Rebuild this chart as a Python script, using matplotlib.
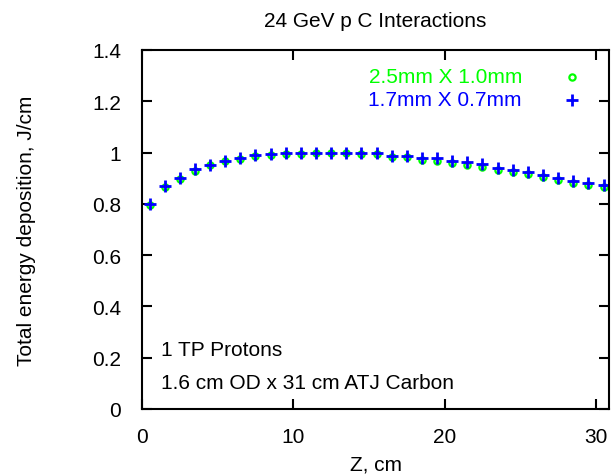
import matplotlib
matplotlib.use('Agg')
import matplotlib.pyplot as plt

# data
z = [0.5, 1.5, 2.5, 3.5, 4.5, 5.5, 6.5, 7.5, 8.5, 9.5, 10.5, 11.5, 12.5, 13.5, 14.5, 15.5,
     16.5, 17.5, 18.5, 19.5, 20.5, 21.5, 22.5, 23.5, 24.5, 25.5, 26.5, 27.5, 28.5, 29.5, 30.5]
edep_small = [0.800, 0.871, 0.902, 0.934, 0.953, 0.969, 0.977, 0.990, 0.993, 0.998, 0.999,
              1.000, 1.000, 1.000, 0.998, 0.999, 0.988, 0.988, 0.977, 0.977, 0.968, 0.962,
              0.955, 0.940, 0.933, 0.923, 0.912, 0.900, 0.890, 0.882, 0.874]
edep_large = [0.797, 0.867, 0.898, 0.930, 0.950, 0.966, 0.975, 0.986, 0.990, 0.995, 0.996,
              0.997, 0.997, 0.997, 0.994, 0.994, 0.983, 0.982, 0.970, 0.969, 0.960, 0.953,
              0.945, 0.932, 0.925, 0.917, 0.904, 0.892, 0.882, 0.873, 0.865]
label_large = '2.5mm X 1.0mm'
label_small = '1.7mm X 0.7mm'

plt.rcParams['font.family'] = ['Liberation Sans', 'DejaVu Sans']
fs = 15

fig = plt.figure(figsize=(6.11, 4.77), dpi=100)
ax = fig.add_axes([142 / 611, 1 - 410 / 477, 467 / 611, 359 / 477])

ax.plot(z, edep_large, linestyle='none', marker='o', markersize=4.5,
        markerfacecolor='none', markeredgecolor='#00ff00', markeredgewidth=1.6)
ax.plot(z, edep_small, linestyle='none', marker='+', markersize=9,
        markeredgecolor='#0000ff', markeredgewidth=2)

ax.set_xlim(0, 30.86)
ax.set_ylim(0, 1.4)
ax.set_xticks([0, 10, 20, 30])
ax.set_yticks([0, 0.2, 0.4, 0.6, 0.8, 1.0, 1.2, 1.4])
ax.set_yticklabels(['0', '0.2', '0.4', '0.6', '0.8', '1', '1.2', '1.4'])
ax.tick_params(direction='in', top=True, right=True, length=7, width=1.5,
               labelsize=fs)
ax.tick_params(axis='x', pad=13)
ax.tick_params(axis='y', pad=15)
for s in ax.spines.values():
    s.set_linewidth(1.5)

ax.set_title('24 GeV p C Interactions', fontsize=fs, pad=17)
ax.set_xlabel('Z, cm', fontsize=fs, labelpad=6)
ax.set_ylabel('Total energy deposition, J/cm', fontsize=fs, labelpad=40)

# legend drawn by hand, gnuplot style
H = 477
ax.text(522, H - 78, label_large, transform=None, fontsize=fs, color='#00ff00',
        ha='right', va='center')
ax.text(522, H - 101, label_small, transform=None, fontsize=fs, color='#0000ff',
        ha='right', va='center')
fig.canvas.draw()
inv = ax.transData.inverted()
p1 = inv.transform((572, H - 78))
p2 = inv.transform((572, H - 101))
ax.plot([p1[0]], [p1[1]], linestyle='none', marker='o', markersize=4.5,
        markerfacecolor='none', markeredgecolor='#00ff00', markeredgewidth=1.6)
ax.plot([p2[0]], [p2[1]], linestyle='none', marker='+', markersize=9,
        markeredgecolor='#0000ff', markeredgewidth=2)

ax.text(0.04, 0.165, '1 TP Protons', transform=ax.transAxes, fontsize=fs, va='center')
ax.text(0.04, 0.075, '1.6 cm OD x 31 cm ATJ Carbon', transform=ax.transAxes,
        fontsize=fs, va='center')

fig.savefig('out.png', dpi=100)
